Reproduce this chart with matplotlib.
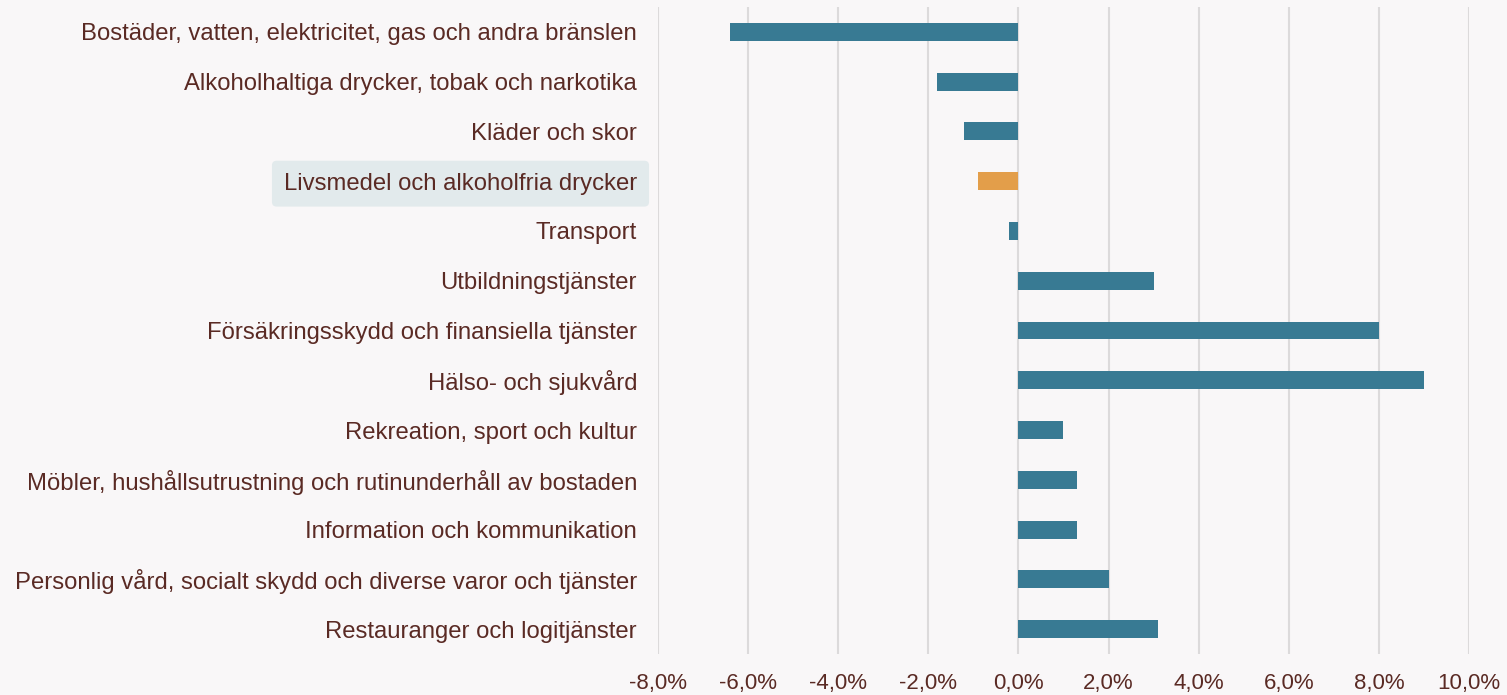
import matplotlib
matplotlib.use('Agg')
import matplotlib.pyplot as plt
from matplotlib.ticker import FuncFormatter

# ── data ─────────────────────────────────────────────────────────────────────
CATEGORIES = [
    'Bostäder, vatten, elektricitet, gas och andra bränslen',
    'Alkoholhaltiga drycker, tobak och narkotika',
    'Kläder och skor',
    'Livsmedel och alkoholfria drycker',
    'Transport',
    'Utbildningstjänster',
    'Försäkringsskydd och finansiella tjänster',
    'Hälso- och sjukvård',
    'Rekreation, sport och kultur',
    'Möbler, hushållsutrustning och rutinunderhåll av bostaden',
    'Information och kommunikation',
    'Personlig vård, socialt skydd och diverse varor och tjänster',
    'Restauranger och logitjänster',
]
VALUES = [-6.4, -1.8, -1.2, -0.9, -0.2, 3.0, 8.0, 9.0, 1.0, 1.3, 1.3, 2.0, 3.1]
HIGHLIGHT = 'Livsmedel och alkoholfria drycker'
XTICKS = [-8, -6, -4, -2, 0, 2, 4, 6, 8, 10]

# ── style ────────────────────────────────────────────────────────────────────
BG = '#f9f7f8'
TEXT = '#5a2a24'
BAR = '#387a93'
BAR_HL = '#e39e4a'
GRID = '#dcdadb'
HL_BOX = '#e2eaec'

plt.rcParams['font.family'] = ['Liberation Sans', 'DejaVu Sans']

fig = plt.figure(figsize=(15.07, 6.95), dpi=100, facecolor=BG)
ax = fig.add_axes([0.4366, 0.059, 0.9748 - 0.4366, 0.931])
ax.set_facecolor(BG)

y = range(len(CATEGORIES))
colors = [BAR_HL if c == HIGHLIGHT else BAR for c in CATEGORIES]
ax.barh(list(y), VALUES, height=0.36, color=colors, zorder=3)

ax.set_xlim(-8, 10)
ax.set_ylim(len(CATEGORIES) - 0.5, -0.5)
ax.set_xticks(XTICKS)
ax.xaxis.set_major_formatter(FuncFormatter(lambda v, _: f'{v:.1f}%'.replace('.', ',')))
ax.set_yticks(list(y))
ax.set_yticklabels(CATEGORIES)

ax.grid(axis='x', color=GRID, linewidth=1.5, zorder=0)
ax.set_axisbelow(True)
for s in ax.spines.values():
    s.set_visible(False)

ax.tick_params(axis='y', length=0, pad=15, labelsize=17.2, labelcolor=TEXT)
ax.tick_params(axis='x', length=0, pad=14, labelsize=16, labelcolor=TEXT)

for lbl in ax.get_yticklabels():
    if lbl.get_text() == HIGHLIGHT:
        lbl.set_bbox(dict(boxstyle='round,pad=0.5,rounding_size=0.2',
                          facecolor=HL_BOX, edgecolor='none'))

fig.savefig('out.png', dpi=100, facecolor=BG)
